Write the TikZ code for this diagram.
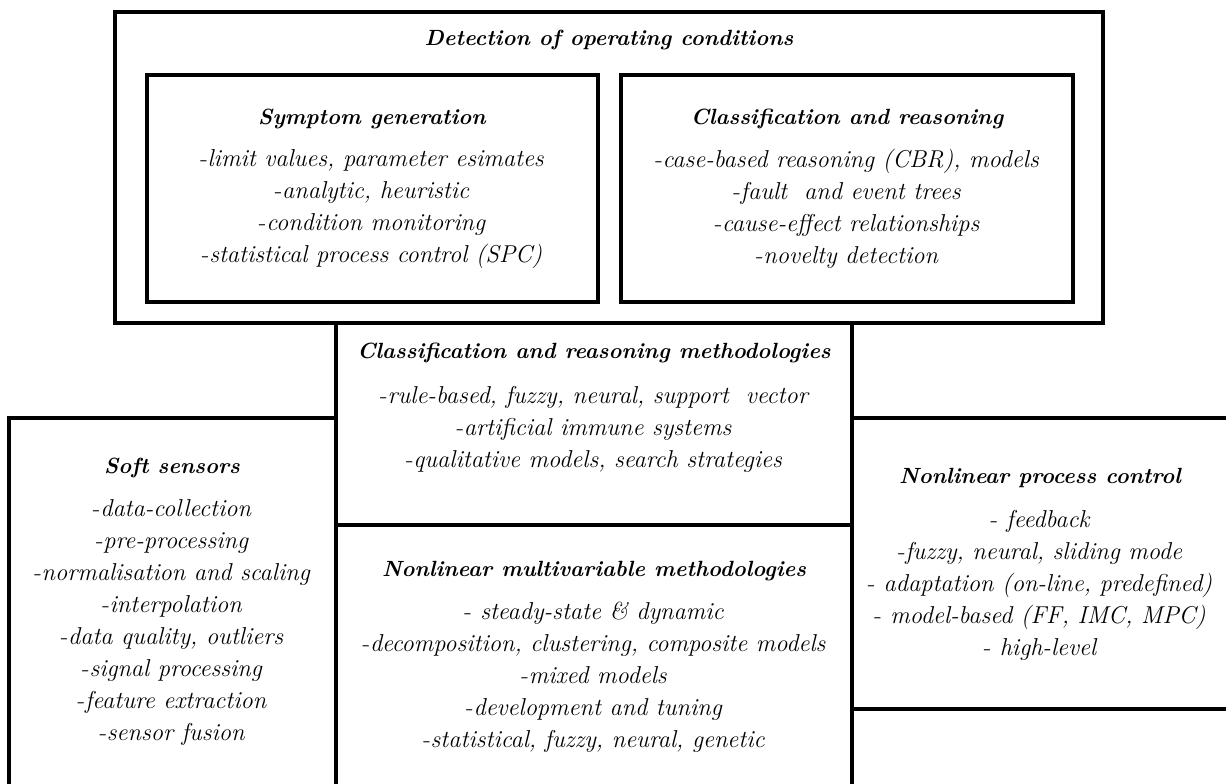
\documentclass[tikz,border=0pt]{standalone}
\usetikzlibrary{positioning}

\tikzset{
  frame/.style={line width=3.8pt, line cap=rect},
  head/.style={font=\fontsize{22}{32}\selectfont\bfseries\itshape, inner sep=0pt},
  items/.style={font=\fontsize{24.4}{32}\selectfont\itshape, align=center, inner sep=0pt},
}
\newcommand{\dsh}{{\upshape-}}

\begin{document}
\begin{tikzpicture}[x=1pt, y=-1pt]
    \useasboundingbox (0,0) rectangle (1226,784);
    % detection of operating conditions
    \draw[frame] (115,12) rectangle (1103,323);
    \draw[frame] (147,75) rectangle (598,302);
    \draw[frame] (621,75) rectangle (1073,302);
    \node[head] (detect) at (609,40) {Detection of operating conditions};
    \node[head] (symhead) at (372,119) {Symptom generation};
    \node[items] (symlist) at (372,209) {\dsh limit values, parameter esimates\\ \dsh analytic, heuristic\\ \dsh condition monitoring\\ \dsh statistical process control (SPC)};
    \node[head] (clshead) at (847,119) {Classification and reasoning};
    \node[items] (clslist) at (847,209) {\dsh case-based reasoning (CBR), models\\ \dsh fault~ and event trees\\ \dsh cause-effect relationships\\ \dsh novelty detection};
    % middle column
    \draw[frame] (336,323) -- (336,790);
    \draw[frame] (852,323) -- (852,790);
    \draw[frame] (336,525) -- (852,525);
    \node[head] (methead) at (594,353) {Classification and reasoning methodologies};
    \node[items] (metlist) at (594,429) {\dsh rule-based, fuzzy, neural, support~ vector\\ \dsh artificial immune systems\\ \dsh qualitative models, search strategies};
    \node[head] (nmvhead) at (594,571) {Nonlinear multivariable methodologies};
    \node[items] (nmvlist) at (594,677) {\dsh\ steady-state \& dynamic\\ \dsh decomposition, clustering, composite models\\ \dsh mixed models\\ \dsh development and tuning\\ \dsh statistical, fuzzy, neural, genetic};
    % soft sensors
    \draw[frame] (9,790) -- (9,418) -- (336,418);
    \node[head] (softhead) at (172,468) {Soft sensors};
    \node[items] (softlist) at (172,623) {\dsh data-collection\\ \dsh pre-processing\\ \dsh normalisation and scaling\\ \dsh interpolation\\ \dsh data quality, outliers\\ \dsh signal processing\\ \dsh feature extraction\\ \dsh sensor fusion};
    % nonlinear process control
    \draw[frame] (852,418) -- (1232,418);
    \draw[frame] (852,709) -- (1232,709);
    \node[head] (npchead) at (1040,478) {Nonlinear process control};
    \node[items] (npclist) at (1040,585) {\dsh\ feedback\\ \dsh fuzzy, neural, sliding mode\\ \dsh\ adaptation (on-line, predefined)\\ \dsh\ model-based (FF, IMC, MPC)\\ \dsh\ high-level};
\end{tikzpicture}
\end{document}
